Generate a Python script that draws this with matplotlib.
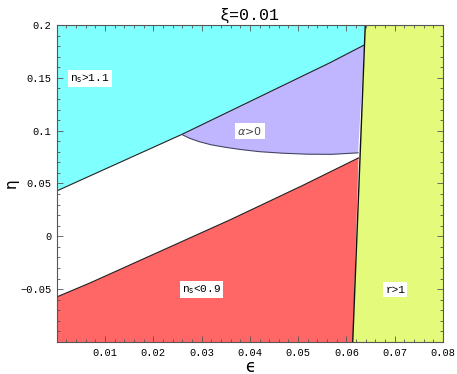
import matplotlib
matplotlib.use("Agg")
import matplotlib.pyplot as plt
from matplotlib.ticker import MultipleLocator, FixedLocator, FixedFormatter
import numpy as np

# boundary curves (epsilon, eta)
cyan_eps = [0.0, 0.0069, 0.0259, 0.0566, 0.0637]      # n_s = 1.1
cyan_eta = [0.0429, 0.0572, 0.0964, 0.1643, 0.1811]
red_eps = [0.0, 0.0069, 0.0359, 0.0510, 0.0625]       # n_s = 0.9
red_eta = [-0.0574, -0.0441, 0.0156, 0.0483, 0.0742]
alpha_eps = [0.0259, 0.0275, 0.0295, 0.0320, 0.0350, 0.0380, 0.0420,
             0.0470, 0.0520, 0.0570, 0.0624]          # alpha = 0
alpha_eta = [0.0964, 0.0928, 0.0896, 0.0866, 0.0842, 0.0822, 0.0801,
             0.0786, 0.0777, 0.0776, 0.0790]
r_eps = [0.0613, 0.0639]                               # r = 1
r_eta = [-0.1, 0.2]

xticks = [0.01, 0.02, 0.03, 0.04, 0.05, 0.06, 0.07, 0.08]
xlabels = ["0.01", "0.02", "0.03", "0.04", "0.05", "0.06", "0.07", "0.08"]
yticks = [-0.05, 0.0, 0.05, 0.1, 0.15, 0.2]
ylabels = ["\u22120.05", "0", "0.05", "0.1", "0.15", "0.2"]

c_cyan = "#80ffff"
c_purple = "#c0b6ff"
c_red = "#ff6666"
c_yellow = "#e4fa7a"
mono = "Liberation Mono"

fig = plt.figure(figsize=(4.57, 3.74), dpi=100)
ax = fig.add_axes([0.1241, 0.0856, 0.8453, 0.8476])
ax.set_xlim(0, 0.08)
ax.set_ylim(-0.1, 0.2)


def r_at(eta):
    return np.interp(eta, r_eta, r_eps)


# cyan region above n_s = 1.1
px = [0.0] + cyan_eps + [r_at(0.2), 0.0]
py = [0.2] + cyan_eta + [0.2, 0.2]
ax.fill(px, py, color=c_cyan, lw=0, zorder=1)

# purple region alpha > 0
ci = cyan_eps.index(alpha_eps[0])
px = cyan_eps[ci:] + alpha_eps[::-1]
py = cyan_eta[ci:] + alpha_eta[::-1]
ax.fill(px, py, color=c_purple, lw=0, zorder=1)

# red region below n_s = 0.9
px = [0.0] + red_eps + [r_at(-0.1)]
py = [-0.1] + red_eta + [-0.1]
ax.fill(px, py, color=c_red, lw=0, zorder=1)

# yellow region r > 1
px = r_eps + [0.08, 0.08]
py = r_eta + [0.2, -0.1]
ax.fill(px, py, color=c_yellow, lw=0, zorder=1)

lw = 0.8
ax.plot(cyan_eps, cyan_eta, color="#222222", lw=lw, zorder=2)
ax.plot(red_eps, red_eta, color="#222222", lw=lw, zorder=2)
ax.plot(alpha_eps, alpha_eta, color="#444466", lw=lw, zorder=2)
ax.plot(r_eps, r_eta, color="#111111", lw=1.0, zorder=2)

box = dict(boxstyle="square,pad=0.2", fc="white", ec="none")
ax.text(0.0069, 0.1491, r"n$_\mathrm{s}$>1.1", family=mono, fontsize=8,
        ha="center", va="center", bbox=box, zorder=3)
ax.text(0.0400, 0.0995, r"$\alpha$>0", fontsize=8, color="#444444",
        ha="center", va="center", bbox=box, zorder=3)
ax.text(0.0300, -0.0506, r"n$_\mathrm{s}$<0.9", family=mono, fontsize=8,
        ha="center", va="center", bbox=box, zorder=3)
ax.text(0.0701, -0.0505, "r>1", family=mono, fontsize=8,
        ha="center", va="center", bbox=box, zorder=3)

ax.xaxis.set_major_locator(FixedLocator(xticks))
ax.xaxis.set_major_formatter(FixedFormatter(xlabels))
ax.yaxis.set_major_locator(FixedLocator(yticks))
ax.yaxis.set_major_formatter(FixedFormatter(ylabels))
ax.xaxis.set_minor_locator(MultipleLocator(0.002))
ax.yaxis.set_minor_locator(MultipleLocator(0.01))
ax.tick_params(which="both", direction="in", top=True, right=True,
               color="#555555", width=0.6)
ax.tick_params(which="major", length=4, labelsize=7.5, pad=4)
ax.tick_params(which="minor", length=2)
for lab in ax.get_xticklabels() + ax.get_yticklabels():
    lab.set_family(mono)
for s in ax.spines.values():
    s.set_color("#555555")
    s.set_linewidth(0.8)
    s.set_zorder(4)

ax.set_title("\u03be=0.01", family=mono, fontsize=12, pad=4)
ax.set_xlabel("\u03f5", fontsize=12, labelpad=0)
ax.set_ylabel("\u03b7", fontsize=11, labelpad=1)

fig.savefig("out.png", dpi=100)
